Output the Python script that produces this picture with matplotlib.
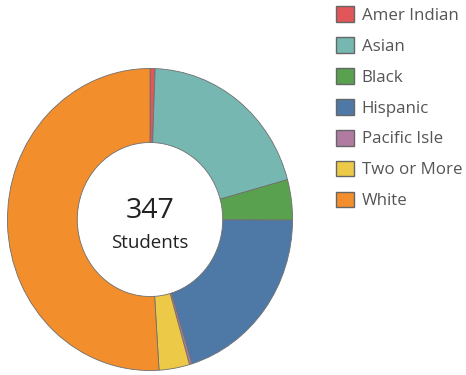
import matplotlib.pyplot as plt
from matplotlib.patches import Patch

groups = ["Amer Indian", "Asian", "Black", "Hispanic", "Pacific Isle", "Two or More", "White"]
students = [2, 70, 15, 70, 1, 12, 177]
colors = ["#e15759", "#76b7b2", "#59a14f", "#4e79a7", "#b07aa1", "#edc948", "#f28e2b"]
total_label = str(sum(students))

plt.rcParams['font.family'] = ['Open Sans', 'DejaVu Sans']

W, H = 466, 375
fig = plt.figure(figsize=(W / 100, H / 100), dpi=100)

# donut axes placed in pixel units (slightly taller than wide)
left, top, width, height = 6, 67, 288, 305
ax = fig.add_axes([left / W, 1 - (top + height) / H, width / W, height / H])
wedges, _ = ax.pie(students, colors=colors, startangle=90, counterclock=False,
                   radius=1, wedgeprops=dict(width=0.49, edgecolor="#6f6f6f", linewidth=0.6))
ax.set_xlim(-1.01, 1.01)
ax.set_ylim(-1.01, 1.01)
ax.set_aspect('auto')
ax.axis('off')

ax.text(0, 0.055, total_label, ha='center', va='center', fontsize=20.5, color='#222222')
ax.text(0, -0.155, "Students", ha='center', va='center', fontsize=13.5, color='#222222')

handles = [Patch(facecolor=c, edgecolor='#666666', linewidth=1.0) for c in colors]
fig.legend(handles, groups, loc='upper left', bbox_to_anchor=(333 / W, 1 - 3 / H),
           frameon=False, fontsize=12.2, labelcolor='#555555',
           handlelength=1.05, handleheight=1.05, handletextpad=0.45,
           labelspacing=0.78, borderpad=0.2, borderaxespad=0)

fig.savefig("out.png", dpi=100)
